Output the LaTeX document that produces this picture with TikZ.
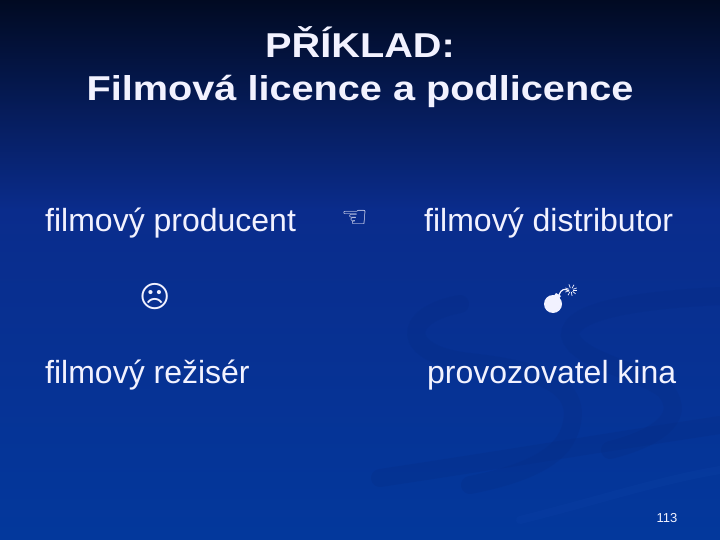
\documentclass[tikz,border=0pt]{standalone}
\usepackage{fontspec}
\usetikzlibrary{calc}
\setmainfont{Liberation Sans}
\newfontfamily\symfont{DejaVu Sans}
\definecolor{bgtop}{HTML}{010A22}
\definecolor{bgmid}{HTML}{0A2C8C}
\definecolor{bgbot}{HTML}{03389C}
\definecolor{txt}{HTML}{F2F2FF}
\definecolor{swirldark}{HTML}{062A80}
\definecolor{swirllight}{HTML}{1045AA}
\begin{document}
\begin{tikzpicture}[x=1pt,y=-1pt,
  lbl/.style={text=txt,font=\fontsize{32}{34}\selectfont,anchor=base west,inner sep=0pt},
  ttl/.style={text=txt,font=\fontsize{34.5}{36}\selectfont\bfseries,anchor=base,inner sep=0pt},
  sym/.style={text=txt,inner sep=0pt},
  swd/.style={draw=swirldark,line width=18pt,opacity=0.22,line cap=round},
  swl/.style={draw=swirllight,line width=8pt,opacity=0.2,line cap=round}]
\useasboundingbox (0,0) rectangle (720,540);
\shade[top color=bgtop,bottom color=bgmid] (0,0) rectangle (720,210);
\shade[top color=bgmid,bottom color=bgbot] (0,210) rectangle (720,540);
% faint swirls
\draw[swd] (460,304) .. controls (400,315) and (400,355) .. (470,362)
  .. controls (540,370) and (585,385) .. (570,430) .. controls (560,460) and (520,475) .. (470,485);
\draw[swd] (720,296) .. controls (640,300) and (570,310) .. (570,335)
  .. controls (575,360) and (640,370) .. (665,390) .. controls (690,420) and (650,440) .. (610,450);
\draw[swd] (380,478) .. controls (500,460) and (620,440) .. (720,425);
\draw[swl] (520,520) .. controls (600,500) and (660,480) .. (720,470);
% title
\node[ttl] (t1) at (360,58) {\scalebox{1.15}[1]{PŘÍKLAD:}};
\node[ttl] (t2) at (360,101) {\scalebox{1.15}[1]{Filmová licence a podlicence}};
% labels
\node[lbl] (prod) at (45,232) {filmový producent};
\node[sym,font=\symfont\fontsize{30}{32}\selectfont] (hand) at (355,219) {☜};
\node[lbl] (dist) at (424,232) {filmový distributor};
\node[sym,font=\symfont\fontsize{30}{32}\selectfont] (sad) at (155,297) {☹};
% bomb
\coordinate (bomb) at (553,304);
\coordinate (spark) at (571,290);
\fill[txt] (bomb) circle (9);
\fill[txt] (556,293) -- (561,296) -- (558,300) -- (553,297) -- cycle;
\draw[txt,line width=1.2pt] (559,295) .. controls (561,289) and (565,288) .. (569,291);
\foreach \a in {0,40,80,120,160,200,250,300,340}
  \draw[txt,line width=0.7pt] ($(spark)+(\a:2)$) -- ($(spark)+(\a:6)$);
\node[lbl] (rez) at (45,383) {filmový režisér};
\node[lbl] (kino) at (427,383) {provozovatel kina};
\node[text=txt,font=\fontsize{13}{14}\selectfont,inner sep=0pt] (pg) at (667,518) {113};
\end{tikzpicture}
\end{document}
